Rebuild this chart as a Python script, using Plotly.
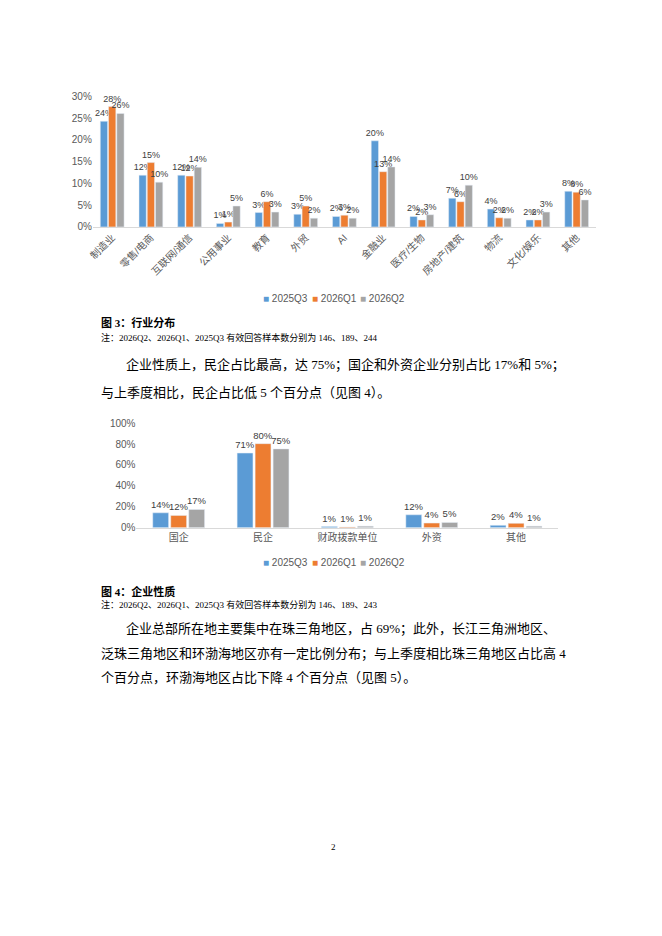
import plotly.graph_objects as go

W, H = 662, 936

# ---- data: figure 3, industry distribution (%) ----
industries = ["制造业", "零售/电商", "互联网/通信", "公用事业", "教育", "外贸", "AI",
              "金融业", "医疗/生物", "房地产/建筑", "物流", "文化/娱乐", "其他"]
ind_2025q3 = [24.3, 11.9, 11.9, 0.8, 3.3, 2.9, 2.4, 19.8, 2.4, 6.6, 4.1, 1.6, 8.2]
ind_2026q1 = [27.7, 14.8, 11.7, 1.1, 5.8, 4.8, 2.7, 12.7, 1.6, 5.8, 2.1, 1.6, 8.0]
ind_2026q2 = [26.1, 10.3, 13.7, 4.8, 3.4, 2.0, 2.0, 13.8, 2.8, 9.6, 2.0, 3.4, 6.2]

# ---- data: figure 4, ownership type (%) ----
ownership = ["国企", "民企", "财政拨款单位", "外资", "其他"]
own_2025q3 = [14.2, 71.4, 1.0, 12.3, 2.2]
own_2026q1 = [11.7, 80.4, 0.6, 4.4, 4.1]
own_2026q2 = [17.4, 75.4, 1.4, 5.0, 1.4]

quarters = ["2025Q3", "2026Q1", "2026Q2"]
colors = ["#5B9BD5", "#ED7D31", "#A5A5A5"]

CHART_FONT = "Liberation Sans, Noto Sans CJK SC, sans-serif"
PAGE_FONT = "Liberation Serif, Noto Sans CJK SC, serif"
AXIS_GREY = "#595959"


def px(x):
    return x / W


def py(y):
    return 1 - y / H


fig = go.Figure()

for name, vals, col in zip(quarters, [ind_2025q3, ind_2026q1, ind_2026q2], colors):
    fig.add_trace(go.Bar(
        x=industries, y=vals, name=name, marker_color=col,
        xaxis="x", yaxis="y", showlegend=False,
        texttemplate="%{y:.0f}%", textposition="outside",
        textfont=dict(size=9, color="#404040", family=CHART_FONT),
        constraintext="none", cliponaxis=False,
    ))

for name, vals, col in zip(quarters, [own_2025q3, own_2026q1, own_2026q2], colors):
    fig.add_trace(go.Bar(
        x=ownership, y=vals, name=name, marker_color=col,
        xaxis="x2", yaxis="y2", showlegend=False,
        texttemplate="%{y:.0f}%", textposition="outside",
        textfont=dict(size=9.5, color="#404040", family=CHART_FONT),
        constraintext="none", cliponaxis=False,
    ))

axis_common = dict(
    showgrid=False, zeroline=False, ticks="",
    tickfont=dict(size=10, color=AXIS_GREY, family=CHART_FONT),
)

fig.update_layout(
    width=W, height=H, autosize=False,
    margin=dict(l=0, r=0, t=0, b=0),
    paper_bgcolor="white", plot_bgcolor="white",
    barmode="group", bargap=0.36, bargroupgap=0.12,
    font=dict(family=CHART_FONT, color=AXIS_GREY),
    xaxis=dict(axis_common, domain=[px(88.5), px(595.5)], anchor="y",
               showline=True, linecolor="#D9D9D9", tickangle=-45),
    yaxis=dict(axis_common, domain=[py(224.3), py(92.5)], anchor="x",
               range=[0, 30], dtick=5, ticksuffix="%", showline=False),
    xaxis2=dict(axis_common, domain=[px(132.5), px(557.5)], anchor="y2",
                showline=True, linecolor="#D9D9D9", tickangle=0),
    yaxis2=dict(axis_common, domain=[py(528.3), py(422.7)], anchor="x2",
                range=[0, 100], dtick=20, ticksuffix="%", showline=False),
)

# ---- legends (compact Excel-style rows under each chart) ----
for legend_y in (297, 564):
    for i, (name, col) in enumerate(zip(quarters, colors)):
        fig.add_annotation(
            x=px(258 + i * 49), y=py(legend_y), xref="paper", yref="paper",
            text=f"<span style='color:{col}'>■</span> {name}",
            showarrow=False, xanchor="left", yanchor="middle",
            font=dict(size=10, color=AXIS_GREY, family=CHART_FONT),
        )

# ---- surrounding page text ----
page_text = [
    (95, 321, "<b>图 3：行业分布</b>", 11),
    (95, 336, "注：2026Q2、2026Q1、2025Q3 有效回答样本数分别为 146、189、244", 9),
    (120, 364, "企业性质上，民企占比最高，达 75%；国企和外资企业分别占比 17%和 5%；", 13),
    (95, 392, "与上季度相比，民企占比低 5 个百分点（见图 4）。", 13),
    (95, 593, "<b>图 4：企业性质</b>", 11),
    (95, 606, "注：2026Q2、2026Q1、2025Q3 有效回答样本数分别为 146、189、243", 9),
    (120, 631, "企业总部所在地主要集中在珠三角地区，占 69%；此外，长江三角洲地区、", 13),
    (95, 656, "泛珠三角地区和环渤海地区亦有一定比例分布；与上季度相比珠三角地区占比高 4", 13),
    (95, 680, "个百分点，环渤海地区占比下降 4 个百分点（见图 5）。", 13),
]
for x, y, txt, size in page_text:
    fig.add_annotation(
        x=px(x), y=py(y), xref="paper", yref="paper", text=txt,
        showarrow=False, xanchor="left", yanchor="middle",
        font=dict(size=size, color="#000000", family=PAGE_FONT),
    )

fig.add_annotation(
    x=px(331), y=py(851), xref="paper", yref="paper", text="2",
    showarrow=False, xanchor="center", yanchor="middle",
    font=dict(size=9, color="#000000", family=PAGE_FONT),
)

fig.write_html(
    "out.html",
    config={"displayModeBar": False},
    post_script="document.body.style.margin='0px';document.body.style.overflow='hidden';",
)
